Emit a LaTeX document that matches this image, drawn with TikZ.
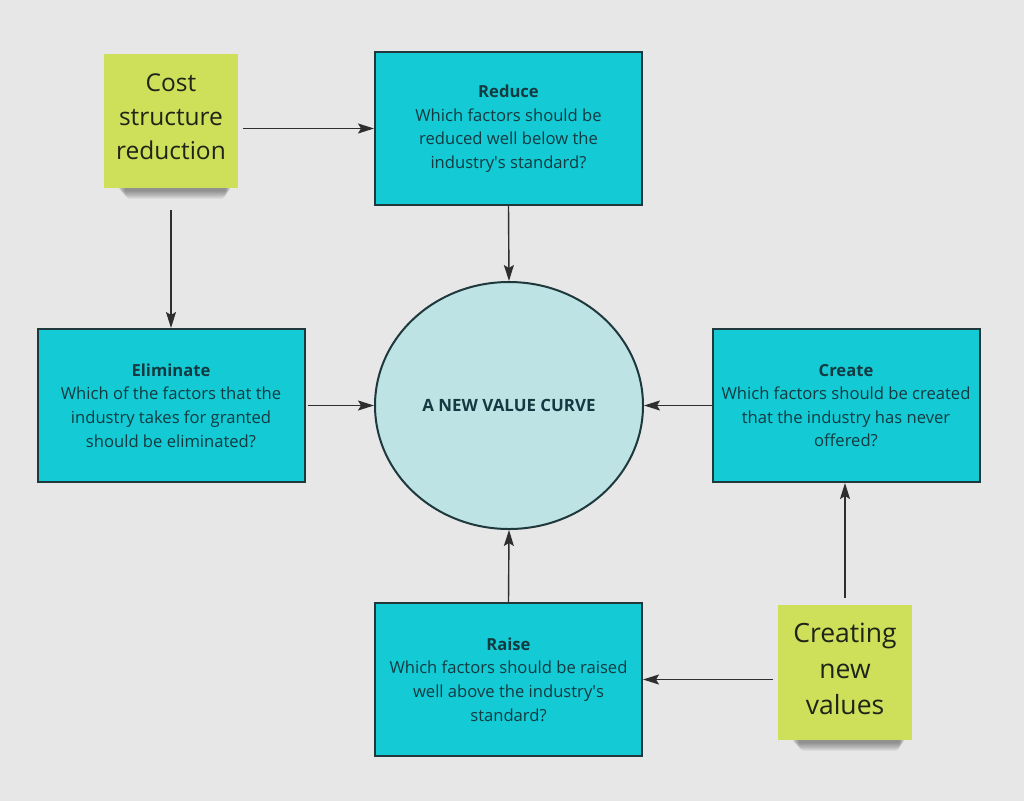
\documentclass[tikz,border=0pt]{standalone}
\usepackage{fontspec}
\setmainfont{Open Sans}
\usetikzlibrary{arrows.meta,shapes.geometric}
\definecolor{bg}{HTML}{E7E7E7}
\definecolor{boxfill}{HTML}{14CAD4}
\definecolor{boxline}{HTML}{1E383C}
\definecolor{boxtext}{HTML}{133A40}
\definecolor{circfill}{HTML}{BEE3E5}
\definecolor{sticky}{HTML}{CEDF5A}
\definecolor{stickytext}{HTML}{1E2418}
\definecolor{arrowcol}{HTML}{2E2E2E}
\tikzset{
  qbox/.style={rectangle, draw=boxline, line width=2pt, fill=boxfill,
    minimum width=267pt, minimum height=153pt, align=center, text=boxtext,
    font=\fontsize{16.6}{23.6}\selectfont, inner sep=0pt},
  note/.style={rectangle, fill=sticky, minimum width=134pt, minimum height=134pt, inner sep=0pt},
  notetext/.style={align=center, text=stickytext, inner sep=0pt},
  arr/.style={draw=arrowcol, line width=1.4pt, -{Stealth[length=16pt,width=10pt,inset=3pt]}},
  valuecurve/.style={ellipse, draw=boxline, line width=2pt, fill=circfill,
    minimum width=268pt, minimum height=247pt, text=boxtext,
    font=\fontsize{16.9}{20}\selectfont\bfseries, inner sep=0pt}
}
\begin{document}
\begin{tikzpicture}[x=1pt,y=-1pt]
\useasboundingbox[fill=bg] (0,0) rectangle (1024,801);

% sticky note shadows (drawn first)
\foreach \i in {0,...,9}{
  \fill[black, opacity=0.045, rounded corners=5pt] (118+\i*0.8,180) rectangle (231-\i*0.6,191+\i*0.9);
}
\foreach \i in {0,...,9}{
  \fill[black, opacity=0.045, rounded corners=5pt] (792+\i*0.8,732) rectangle (905-\i*0.6,743+\i*0.9);
}

% sticky notes
\node[note, label={[notetext, yshift=4.5pt, font=\fontsize{24.5}{34}\selectfont]center:{Cost\\structure\\reduction}}] (cost) at (171,121) {};
\node[note, minimum height=135pt, label={[notetext, yshift=3.5pt, font=\fontsize{26.5}{36}\selectfont]center:{Creating\\new\\values}}] (creating) at (845,672.5) {};

% question boxes
\node[qbox] (reduce) at (508.5,128.5) {\textbf{Reduce}\\Which factors should be\\reduced well below the\\industry\textquotesingle s standard?};
\node[qbox] (elim) at (171,405.5) {\textbf{Eliminate}\\Which of the factors that the\\industry takes for granted\\should be eliminated?};
\node[qbox] (create) at (846,405.5) {\textbf{Create}\\Which factors should be created\\that the industry has never\\offered?};
\node[qbox] (raise) at (508.5,679.5) {\textbf{Raise}\\Which factors should be raised\\well above the industry\textquotesingle s\\standard?};

% central ellipse
\node[valuecurve] (circ) at (509,405.5) {A NEW VALUE CURVE};

% connectors
\draw[arr] ([xshift=5pt]cost.east |- reduce.west) -- (reduce.west);
\draw[arr] ([yshift=-22pt]cost.south) -- (elim.north);
\draw[arr] (reduce.south) -- (circ.north);
\draw[arr] ([xshift=2pt]elim.east) -- (circ.west);
\draw[arr] (create.west) -- (circ.east);
\draw[arr] (raise.north) -- (circ.south);
\draw[arr] ([yshift=7pt]creating.north) -- (creating.north |- create.south);
\draw[arr] ([xshift=-5pt]creating.west |- raise.east) -- (raise.east);
\end{tikzpicture}
\end{document}
